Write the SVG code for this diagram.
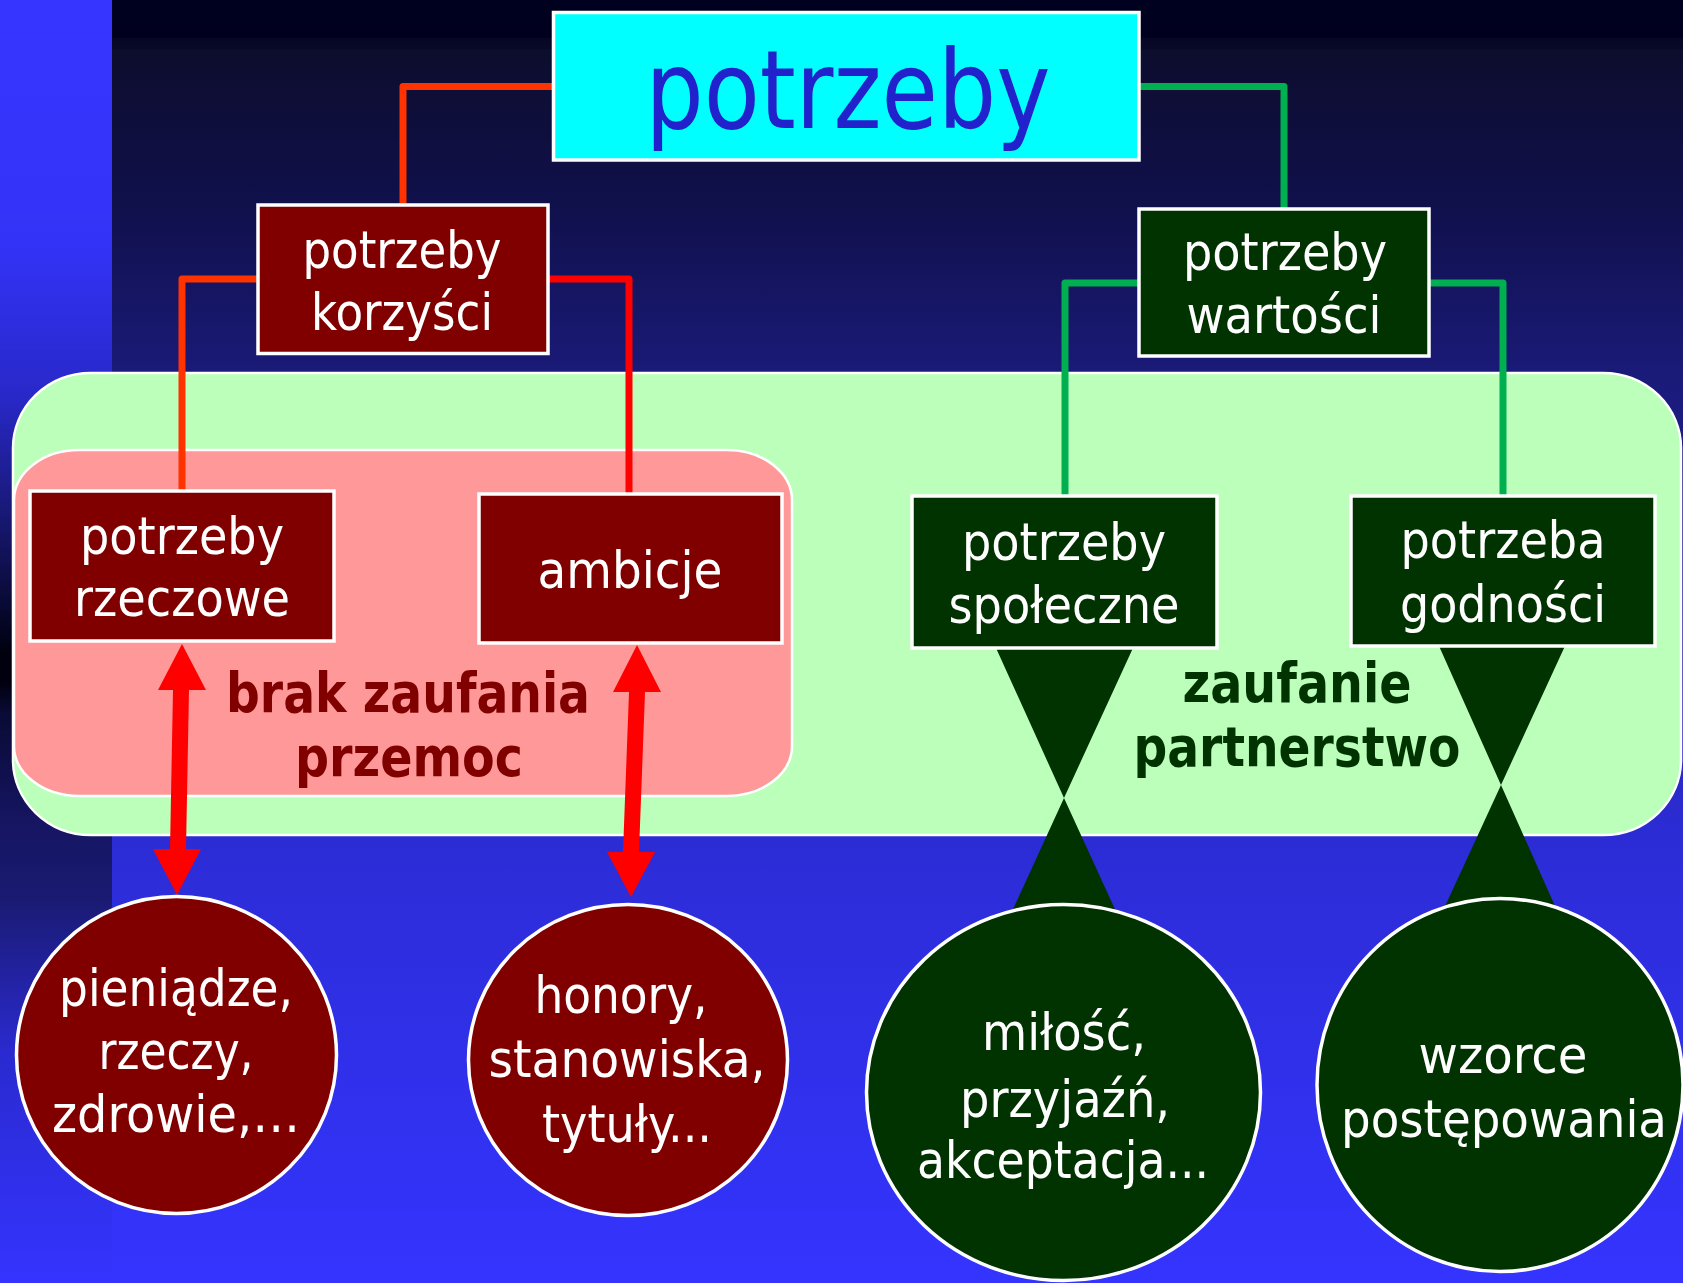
<svg xmlns="http://www.w3.org/2000/svg" width="1683" height="1283" viewBox="0 0 1683 1283">
  <defs>
    <linearGradient id="bgMain" x1="0" y1="0" x2="0" y2="1283" gradientUnits="userSpaceOnUse">
      <stop offset="0" stop-color="#000020"/>
      <stop offset="0.029" stop-color="#00001e"/>
      <stop offset="0.030" stop-color="#070725"/>
      <stop offset="0.038" stop-color="#080828"/>
      <stop offset="0.039" stop-color="#0d0d2e"/>
      <stop offset="0.16" stop-color="#10104c"/>
      <stop offset="0.29" stop-color="#1a1a78"/>
      <stop offset="0.65" stop-color="#2c2cd5"/>
      <stop offset="1" stop-color="#3434ff"/>
    </linearGradient>
    <linearGradient id="bgStrip" x1="0" y1="0" x2="0" y2="1283" gradientUnits="userSpaceOnUse">
      <stop offset="0" stop-color="#3535ff"/>
      <stop offset="0.19" stop-color="#3333f8"/>
      <stop offset="0.31" stop-color="#2828c8"/>
      <stop offset="0.38" stop-color="#1c1c88"/>
      <stop offset="0.45" stop-color="#0e0e48"/>
      <stop offset="0.51" stop-color="#00000e"/>
      <stop offset="0.53" stop-color="#00000e"/>
      <stop offset="0.555" stop-color="#0a0a35"/>
      <stop offset="0.64" stop-color="#151562"/>
      <stop offset="0.70" stop-color="#1a1a72"/>
      <stop offset="0.82" stop-color="#2a2ad0"/>
      <stop offset="1" stop-color="#3434ff"/>
    </linearGradient>
    <style>
      .box { stroke: #ffffff; stroke-width: 3.5; }
      .red { fill: #800000; }
      .grn { fill: #003300; }
      .oval { stroke: #ffffff; stroke-width: 3.5; }
      .t { font-family: "DejaVu Sans Condensed", "DejaVu Sans", "Liberation Sans", sans-serif; font-size: 52px; fill: #ffffff; text-anchor: middle; }
      .b { font-family: "DejaVu Sans Condensed", "DejaVu Sans", "Liberation Sans", sans-serif; font-size: 55px; font-weight: bold; text-anchor: middle; }
      .c { fill: none; stroke-width: 7; stroke-linejoin: round; }
      .cr { stroke: #ff3300; }
      .cR { stroke: #ff0000; }
      .cg { stroke: #00b050; }
    </style>
  </defs>

  <g id="background">
    <rect x="0" y="0" width="1683" height="1283" fill="url(#bgMain)"/>
    <rect x="0" y="0" width="112" height="1283" fill="url(#bgStrip)"/>
  </g>

  <g id="zone-trust">
    <rect x="13" y="373" width="1668" height="462" rx="78" ry="75" fill="#bbffbb" stroke="#ffffff" stroke-width="2.5"/>
  </g>
  <g id="zone-distrust">
    <rect x="14" y="450" width="778" height="346" rx="65" ry="50" fill="#ff9999" stroke="#ffffff" stroke-width="2.5"/>
  </g>

  <g id="connectors">
    <path class="c cr" d="M553 86.5 H403 V205"/>
    <path class="c cr" d="M257 279 H182 V491"/>
    <path class="c cR" d="M548 279 H629 V494"/>
    <path class="c cg" d="M1139 86.5 H1284 V209"/>
    <path class="c cg" d="M1139 283 H1065 V496"/>
    <path class="c cg" d="M1428 283 H1503 V496"/>
    <path fill="#003300" d="M996 648 L1133 648 L1064 798 Z M1064 798 L1119 918 L1009 918 Z"/>
    <path fill="#003300" d="M1439 646 L1565 646 L1501 785 Z M1501 785 L1559 915 L1441 915 Z"/>
    <polygon fill="#ff0000" points="182,644 206,690 189,690 186,849 201,849 177,895 153,849 170,849 173,690 158,690"/>
    <polygon fill="#ff0000" points="637,645 661,692 645,692 639,852 655,852 631,897 607,852 623,852 629,692 613,692"/>
  </g>

  <g id="node-potrzeby">
    <rect x="553.5" y="12.5" width="585.5" height="147.5" fill="#00ffff" stroke="#ffffff" stroke-width="3.5"/>
    <text x="848" y="128" font-family="DejaVu Sans Condensed, DejaVu Sans, Liberation Sans, sans-serif" font-size="108" fill="#2222cc" text-anchor="middle" textLength="405" lengthAdjust="spacingAndGlyphs">potrzeby</text>
  </g>

  <g id="node-korzysci">
    <rect class="box red" x="258" y="205" width="290" height="148.5"/>
    <text class="t" x="402" y="268" textLength="199" lengthAdjust="spacingAndGlyphs">potrzeby</text>
    <text class="t" x="402" y="330" textLength="182" lengthAdjust="spacingAndGlyphs">korzyści</text>
  </g>

  <g id="node-wartosci">
    <rect class="box grn" x="1139" y="209" width="290" height="147"/>
    <text class="t" x="1285" y="270" textLength="204" lengthAdjust="spacingAndGlyphs">potrzeby</text>
    <text class="t" x="1284" y="333" textLength="195" lengthAdjust="spacingAndGlyphs">wartości</text>
  </g>

  <g id="node-rzeczowe">
    <rect class="box red" x="30" y="491" width="304" height="150"/>
    <text class="t" x="182" y="554" textLength="204" lengthAdjust="spacingAndGlyphs">potrzeby</text>
    <text class="t" x="182" y="616" textLength="216" lengthAdjust="spacingAndGlyphs">rzeczowe</text>
  </g>

  <g id="node-ambicje">
    <rect class="box red" x="479" y="494" width="303" height="149"/>
    <text class="t" x="630" y="588" textLength="185" lengthAdjust="spacingAndGlyphs">ambicje</text>
  </g>

  <g id="node-spoleczne">
    <rect class="box grn" x="912" y="496" width="305" height="152"/>
    <text class="t" x="1064" y="560" textLength="204" lengthAdjust="spacingAndGlyphs">potrzeby</text>
    <text class="t" x="1064" y="623" textLength="231" lengthAdjust="spacingAndGlyphs">społeczne</text>
  </g>

  <g id="node-godnosci">
    <rect class="box grn" x="1351" y="496" width="304" height="150"/>
    <text class="t" x="1503" y="558" textLength="205" lengthAdjust="spacingAndGlyphs">potrzeba</text>
    <text class="t" x="1503" y="622" textLength="206" lengthAdjust="spacingAndGlyphs">godności</text>
  </g>

  <g id="label-distrust">
    <text class="b" x="408" y="712" fill="#800000" textLength="364" lengthAdjust="spacingAndGlyphs">brak zaufania</text>
    <text class="b" x="409" y="776" fill="#800000" textLength="228" lengthAdjust="spacingAndGlyphs">przemoc</text>
  </g>

  <g id="label-trust">
    <text class="b" x="1297" y="702" fill="#003300" textLength="229" lengthAdjust="spacingAndGlyphs">zaufanie</text>
    <text class="b" x="1297" y="766" fill="#003300" textLength="327" lengthAdjust="spacingAndGlyphs">partnerstwo</text>
  </g>

  <g id="node-pieniadze">
    <ellipse class="oval red" cx="176.5" cy="1055" rx="160" ry="158.5"/>
    <text class="t" x="176" y="1006" textLength="234" lengthAdjust="spacingAndGlyphs">pieniądze,</text>
    <text class="t" x="176" y="1069" textLength="155" lengthAdjust="spacingAndGlyphs">rzeczy,</text>
    <text class="t" x="176" y="1132" textLength="248" lengthAdjust="spacingAndGlyphs">zdrowie,…</text>
  </g>

  <g id="node-honory">
    <ellipse class="oval red" cx="628" cy="1060" rx="159.5" ry="155.5"/>
    <text class="t" x="621" y="1013" textLength="173" lengthAdjust="spacingAndGlyphs">honory,</text>
    <text class="t" x="627" y="1077" textLength="277" lengthAdjust="spacingAndGlyphs">stanowiska,</text>
    <text class="t" x="627" y="1142" textLength="170" lengthAdjust="spacingAndGlyphs">tytuły...</text>
  </g>

  <g id="node-milosc">
    <ellipse class="oval grn" cx="1063.5" cy="1092.5" rx="197" ry="188"/>
    <text class="t" x="1064" y="1050" textLength="164" lengthAdjust="spacingAndGlyphs">miłość,</text>
    <text class="t" x="1065" y="1117" textLength="210" lengthAdjust="spacingAndGlyphs">przyjaźń,</text>
    <text class="t" x="1063" y="1178" textLength="292" lengthAdjust="spacingAndGlyphs">akceptacja...</text>
  </g>

  <g id="node-wzorce">
    <ellipse class="oval grn" cx="1500" cy="1085" rx="183" ry="186.5"/>
    <text class="t" x="1503" y="1073" textLength="169" lengthAdjust="spacingAndGlyphs">wzorce</text>
    <text class="t" x="1504" y="1137" textLength="326" lengthAdjust="spacingAndGlyphs">postępowania</text>
  </g>
</svg>
